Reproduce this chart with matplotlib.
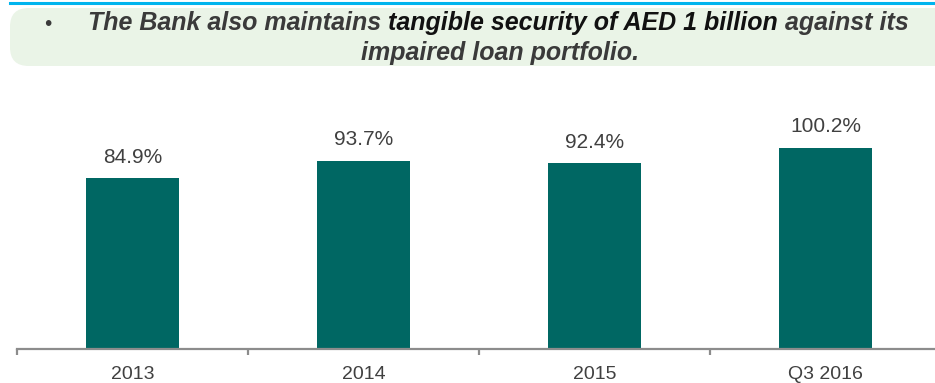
import matplotlib
matplotlib.use("Agg")
import matplotlib.pyplot as plt
from matplotlib.patches import FancyBboxPatch
from matplotlib.lines import Line2D

# Coverage ratio data
categories = ["2013", "2014", "2015", "Q3 2016"]
coverage = [84.9, 93.7, 92.4, 100.2]
value_labels = ["84.9%", "93.7%", "92.4%", "100.2%"]

headline_parts = [
    ("The Bank also maintains ", "#3a3a3a"),
    ("tangible security of AED 1 billion", "#111111"),
    (" against its", "#3a3a3a"),
]
headline_line2 = "impaired loan portfolio."

W, H = 935, 383
DPI = 100
plt.rcParams["font.family"] = ["Liberation Sans", "DejaVu Sans"]

fig = plt.figure(figsize=(W / DPI, H / DPI), dpi=DPI)
fig.patch.set_facecolor("white")


def fx(x):
    return x / W


def fy(y):
    return 1 - y / H


# Thin cyan rule along the top edge
fig.add_artist(Line2D([fx(10), fx(940)], [fy(2.5), fy(2.5)], color="#00B4EE",
                      lw=2.2, transform=fig.transFigure))

# Light green callout box
box = FancyBboxPatch((fx(10), fy(66)), fx(960) - fx(10), fy(8) - fy(66),
                     boxstyle="round,pad=0,rounding_size=0.02",
                     transform=fig.transFigure, facecolor="#EAF4E7",
                     edgecolor="none", mutation_aspect=W / H)
fig.add_artist(box)

# Bullet and headline text
title_kw = dict(fontsize=18, fontweight="bold", fontstyle="italic",
                transform=fig.transFigure, va="baseline")
fig.text(fx(44), fy(30), "\u2022", color="#3a3a3a", fontsize=15,
         transform=fig.transFigure, va="baseline")

renderer = fig.canvas.get_renderer()
pieces = []
total = 0
for txt, col in headline_parts:
    t = fig.text(0, fy(30), txt, color=col, **title_kw)
    w = t.get_window_extent(renderer=renderer).width
    pieces.append((t, w))
    total += w
x0 = 498 - total / 2
for t, w in pieces:
    t.set_x(fx(x0))
    x0 += w
fig.text(fx(500), fy(60), headline_line2, color="#3a3a3a", ha="center",
         **title_kw)

# Bar chart
ymax = 130
scale = 2.01  # pixels per percentage point
ax = fig.add_axes([fx(17), fy(349), 924 / W, ymax * scale / H])
x = list(range(len(categories)))
ax.bar(x, coverage, width=0.4, color="#006763", zorder=2)
ax.set_xlim(-0.5, len(categories) - 0.5)
ax.set_ylim(0, ymax)

for xi, v, lab in zip(x, coverage, value_labels):
    ax.annotate(lab, (xi, v), xytext=(0, 11), textcoords="offset points",
                ha="center", va="baseline", fontsize=15, color="#404040")

for side in ["top", "right", "left"]:
    ax.spines[side].set_visible(False)
ax.spines["bottom"].set_color("#8C8C8C")
ax.spines["bottom"].set_linewidth(1.6)
ax.set_yticks([])
ax.set_xticks(x)
ax.set_xticklabels(categories, fontsize=14, color="#404040")
ax.tick_params(axis="x", which="major", length=0, pad=12.5)
ax.set_xticks([i - 0.5 for i in range(len(categories) + 1)], minor=True)
ax.tick_params(axis="x", which="minor", length=4.5, width=1.6,
               color="#8C8C8C")
ax.set_facecolor("none")

fig.savefig("out.png", dpi=DPI)
